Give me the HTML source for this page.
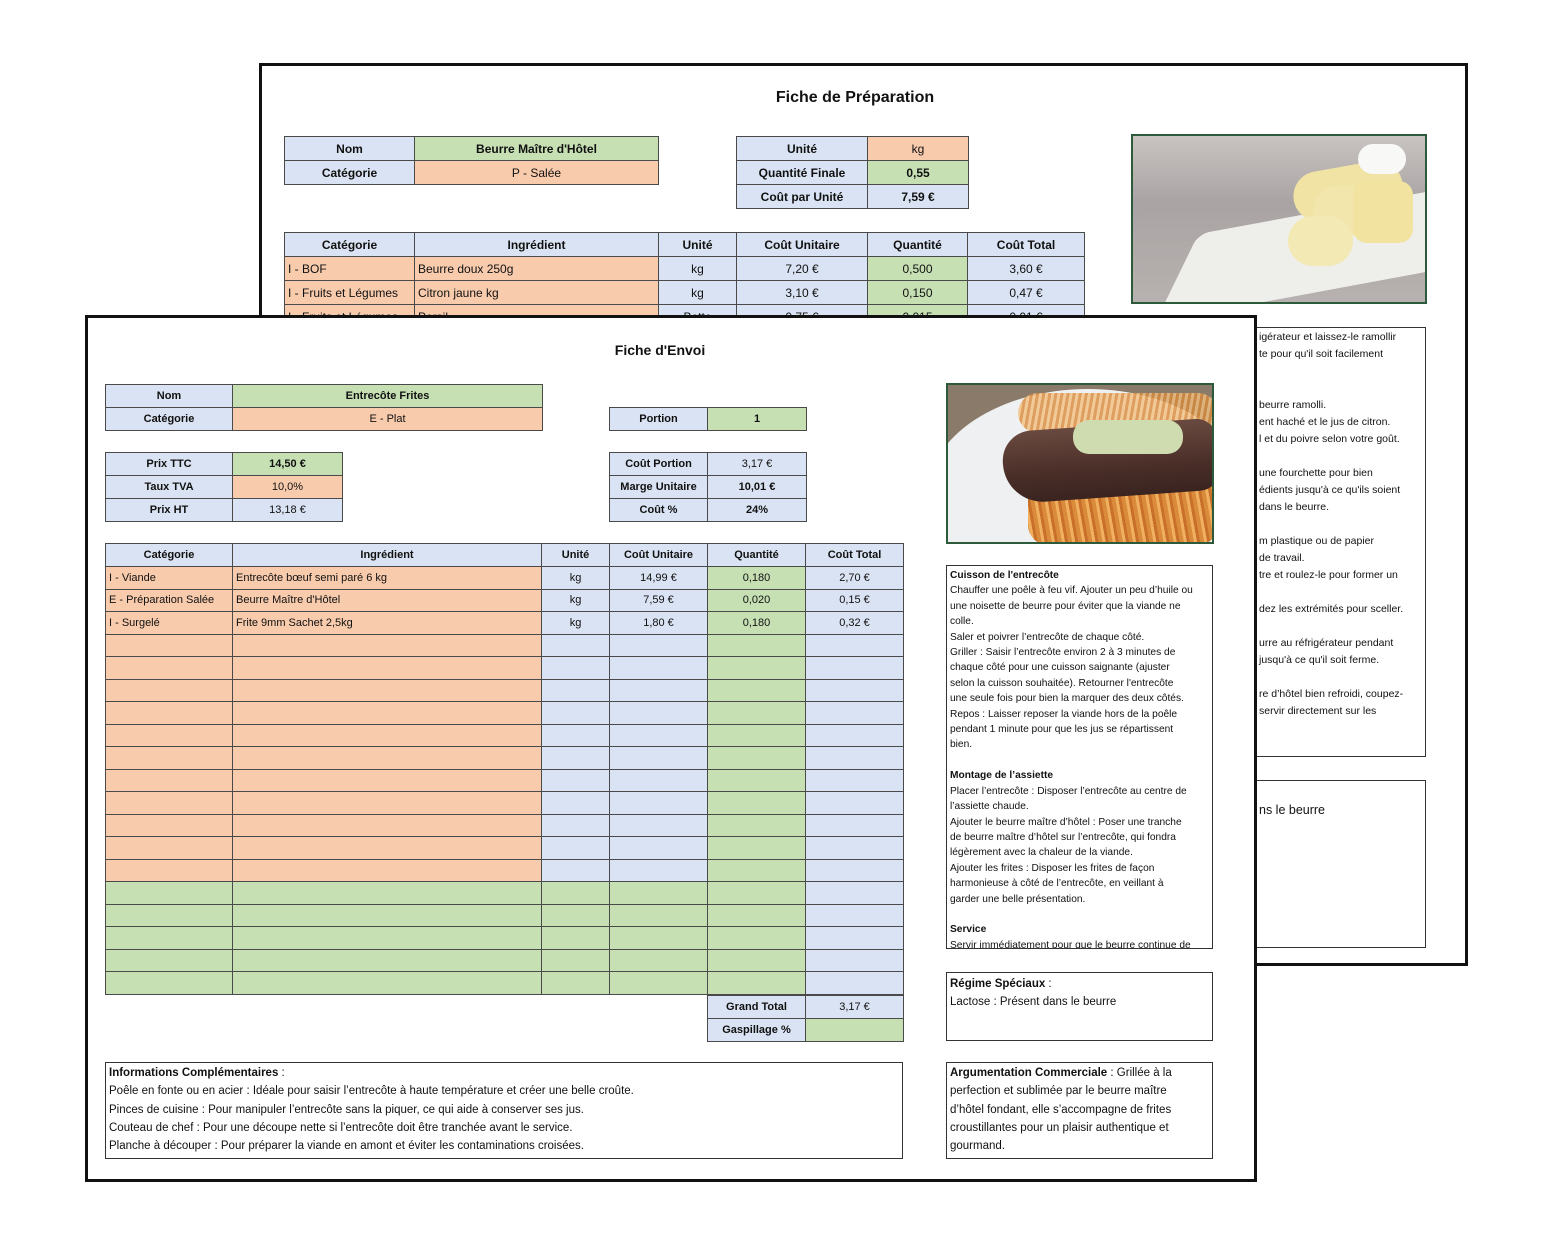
<!DOCTYPE html>
<html><head><meta charset="utf-8">
<style>
*{box-sizing:border-box;margin:0;padding:0}
body{width:1563px;height:1250px;background:#fff;position:relative;overflow:hidden;font-family:"Liberation Sans",sans-serif;color:#111}
.abs{position:absolute}
table{border-collapse:collapse;table-layout:fixed;position:absolute}
td{border:1px solid #4a4a4a;font-size:12px;text-align:center;padding:0;white-space:nowrap;overflow:hidden}
.b{background:#dae3f3}.g{background:#c6e0b4}.o{background:#f8cbad}
.l{text-align:left;padding-left:3px}
.h td{font-weight:bold}
.ft td{font-size:11px}
.box{position:absolute;border:1.5px solid #333;background:#fff;font-size:10px;line-height:15.4px;padding:2px 3px;overflow:hidden;white-space:nowrap}
</style></head><body>

<!-- BACK SHEET -->
<div class="abs" style="left:259px;top:63px;width:1209px;height:903px;border:3px solid #111;background:#fff"></div>
<div class="abs" style="left:700px;top:89px;width:310px;text-align:center;font-weight:bold;font-size:16px">Fiche de Préparation</div>

<table style="left:284px;top:136px;width:374px">
<colgroup><col style="width:130px"><col style="width:244px"></colgroup>
<tr style="height:24px"><td class="b"><b>Nom</b></td><td class="g"><b>Beurre Maître d'Hôtel</b></td></tr>
<tr style="height:24px"><td class="b"><b>Catégorie</b></td><td class="o">P - Salée</td></tr>
</table>
<table style="left:736px;top:136px;width:232px">
<colgroup><col style="width:131px"><col style="width:101px"></colgroup>
<tr style="height:24px"><td class="b"><b>Unité</b></td><td class="o">kg</td></tr>
<tr style="height:24px"><td class="b"><b>Quantité Finale</b></td><td class="g"><b>0,55</b></td></tr>
<tr style="height:24px"><td class="b"><b>Coût par Unité</b></td><td class="b"><b>7,59 €</b></td></tr>
</table>
<table style="left:284px;top:232px;width:800px">
<colgroup><col style="width:130px"><col style="width:244px"><col style="width:78px"><col style="width:131px"><col style="width:100px"><col style="width:117px"></colgroup>
<tr class="h" style="height:24px"><td class="b">Catégorie</td><td class="b">Ingrédient</td><td class="b">Unité</td><td class="b">Coût Unitaire</td><td class="b">Quantité</td><td class="b">Coût Total</td></tr>
<tr style="height:24px"><td class="o l">I - BOF</td><td class="o l">Beurre doux 250g</td><td class="b">kg</td><td class="b">7,20 €</td><td class="g">0,500</td><td class="b">3,60 €</td></tr>
<tr style="height:24px"><td class="o l">I - Fruits et Légumes</td><td class="o l">Citron jaune kg</td><td class="b">kg</td><td class="b">3,10 €</td><td class="g">0,150</td><td class="b">0,47 €</td></tr>
<tr style="height:24px"><td class="o l">I - Fruits et Légumes</td><td class="o l">Persil</td><td class="b">Botte</td><td class="b">0,75 €</td><td class="g">0,015</td><td class="b">0,01 €</td></tr>
</table>

<!-- butter image -->
<div class="abs" style="left:1131px;top:134px;width:296px;height:170px;border:2px solid #2d5a3a;overflow:hidden;background:linear-gradient(180deg,#c9c4c2 0%,#a9a3a3 40%,#b7b1b0 100%)">
 <div class="abs" style="left:60px;top:70px;width:260px;height:90px;background:#eeeeea;transform:skewX(-35deg) rotate(-12deg);border-radius:10px"></div>
 <div class="abs" style="left:160px;top:30px;width:110px;height:50px;background:#f0e3a4;border-radius:25px;transform:rotate(-10deg)"></div>
 <div class="abs" style="left:180px;top:50px;width:60px;height:50px;background:#f2e6ac;border-radius:28px"></div>
 <div class="abs" style="left:155px;top:80px;width:65px;height:50px;background:#f3e9b4;border-radius:28px"></div>
 <div class="abs" style="left:220px;top:45px;width:60px;height:62px;background:#f2e4a0;border-radius:14px"></div>
 <div class="abs" style="left:225px;top:8px;width:48px;height:30px;background:#f8f8f6;border-radius:15px"></div>
</div>

<!-- back text box (fragments visible) -->
<div class="box" style="left:1200px;top:327px;width:226px;height:430px;font-size:10.5px;line-height:17px;padding-left:58px;padding-top:1px">
igérateur et laissez-le ramollir<br>te pour qu'il soit facilement<br><br><br>beurre ramolli.<br>ent haché et le jus de citron.<br>l et du poivre selon votre goût.<br><br>une fourchette pour bien<br>édients jusqu'à ce qu'ils soient<br>dans le beurre.<br><br>m plastique ou de papier<br>de travail.<br>tre et roulez-le pour former un<br><br>dez les extrémités pour sceller.<br><br>urre au réfrigérateur pendant<br>jusqu'à ce qu'il soit ferme.<br><br>re d’hôtel bien refroidi, coupez-<br>servir directement sur les
</div>
<div class="box" style="left:1200px;top:780px;width:226px;height:168px;font-size:12.5px;padding-left:58px;padding-top:22px">ns le beurre</div>

<!-- FRONT SHEET -->
<div class="abs" style="left:85px;top:315px;width:1172px;height:867px;border:3px solid #111;background:#fff"></div>
<div class="abs" style="left:560px;top:342px;width:200px;text-align:center;font-weight:bold;font-size:14px">Fiche d'Envoi</div>

<div class="ft">
<table style="left:105px;top:384px;width:437px">
<colgroup><col style="width:127px"><col style="width:310px"></colgroup>
<tr style="height:23px"><td class="b"><b>Nom</b></td><td class="g"><b>Entrecôte Frites</b></td></tr>
<tr style="height:23px"><td class="b"><b>Catégorie</b></td><td class="o">E - Plat</td></tr>
</table>
<table style="left:609px;top:407px;width:197px">
<colgroup><col style="width:98px"><col style="width:99px"></colgroup>
<tr style="height:23px"><td class="b"><b>Portion</b></td><td class="g"><b>1</b></td></tr>
</table>
<table style="left:105px;top:452px;width:237px">
<colgroup><col style="width:127px"><col style="width:110px"></colgroup>
<tr style="height:23px"><td class="b"><b>Prix TTC</b></td><td class="g"><b>14,50 €</b></td></tr>
<tr style="height:23px"><td class="b"><b>Taux TVA</b></td><td class="o">10,0%</td></tr>
<tr style="height:23px"><td class="b"><b>Prix HT</b></td><td class="b">13,18 €</td></tr>
</table>
<table style="left:609px;top:452px;width:197px">
<colgroup><col style="width:98px"><col style="width:99px"></colgroup>
<tr style="height:23px"><td class="b"><b>Coût Portion</b></td><td class="b">3,17 €</td></tr>
<tr style="height:23px"><td class="b"><b>Marge Unitaire</b></td><td class="b"><b>10,01 €</b></td></tr>
<tr style="height:23px"><td class="b"><b>Coût %</b></td><td class="b"><b>24%</b></td></tr>
</table>

<table style="left:105px;top:543px;width:798px">
<colgroup><col style="width:127px"><col style="width:309px"><col style="width:68px"><col style="width:98px"><col style="width:98px"><col style="width:98px"></colgroup>
<tr class="h" style="height:23px"><td class="b">Catégorie</td><td class="b">Ingrédient</td><td class="b">Unité</td><td class="b">Coût Unitaire</td><td class="b">Quantité</td><td class="b">Coût Total</td></tr>
<tr style="height:22.5px"><td class="o l">I - Viande</td><td class="o l">Entrecôte bœuf semi paré 6 kg</td><td class="b">kg</td><td class="b">14,99 €</td><td class="g">0,180</td><td class="b">2,70 €</td></tr>
<tr style="height:22.5px"><td class="o l">E - Préparation Salée</td><td class="o l">Beurre Maître d'Hôtel</td><td class="b">kg</td><td class="b">7,59 €</td><td class="g">0,020</td><td class="b">0,15 €</td></tr>
<tr style="height:22.5px"><td class="o l">I - Surgelé</td><td class="o l">Frite 9mm Sachet 2,5kg</td><td class="b">kg</td><td class="b">1,80 €</td><td class="g">0,180</td><td class="b">0,32 €</td></tr>
<tr style="height:22.5px"><td class="o"></td><td class="o"></td><td class="b"></td><td class="b"></td><td class="g"></td><td class="b"></td></tr>
<tr style="height:22.5px"><td class="o"></td><td class="o"></td><td class="b"></td><td class="b"></td><td class="g"></td><td class="b"></td></tr>
<tr style="height:22.5px"><td class="o"></td><td class="o"></td><td class="b"></td><td class="b"></td><td class="g"></td><td class="b"></td></tr>
<tr style="height:22.5px"><td class="o"></td><td class="o"></td><td class="b"></td><td class="b"></td><td class="g"></td><td class="b"></td></tr>
<tr style="height:22.5px"><td class="o"></td><td class="o"></td><td class="b"></td><td class="b"></td><td class="g"></td><td class="b"></td></tr>
<tr style="height:22.5px"><td class="o"></td><td class="o"></td><td class="b"></td><td class="b"></td><td class="g"></td><td class="b"></td></tr>
<tr style="height:22.5px"><td class="o"></td><td class="o"></td><td class="b"></td><td class="b"></td><td class="g"></td><td class="b"></td></tr>
<tr style="height:22.5px"><td class="o"></td><td class="o"></td><td class="b"></td><td class="b"></td><td class="g"></td><td class="b"></td></tr>
<tr style="height:22.5px"><td class="o"></td><td class="o"></td><td class="b"></td><td class="b"></td><td class="g"></td><td class="b"></td></tr>
<tr style="height:22.5px"><td class="o"></td><td class="o"></td><td class="b"></td><td class="b"></td><td class="g"></td><td class="b"></td></tr>
<tr style="height:22.5px"><td class="o"></td><td class="o"></td><td class="b"></td><td class="b"></td><td class="g"></td><td class="b"></td></tr>
<tr style="height:22.5px"><td class="g"></td><td class="g"></td><td class="g"></td><td class="g"></td><td class="g"></td><td class="b"></td></tr>
<tr style="height:22.5px"><td class="g"></td><td class="g"></td><td class="g"></td><td class="g"></td><td class="g"></td><td class="b"></td></tr>
<tr style="height:22.5px"><td class="g"></td><td class="g"></td><td class="g"></td><td class="g"></td><td class="g"></td><td class="b"></td></tr>
<tr style="height:22.5px"><td class="g"></td><td class="g"></td><td class="g"></td><td class="g"></td><td class="g"></td><td class="b"></td></tr>
<tr style="height:22.5px"><td class="g"></td><td class="g"></td><td class="g"></td><td class="g"></td><td class="g"></td><td class="b"></td></tr>
</table>
<table style="left:707px;top:995px;width:196px">
<colgroup><col style="width:98px"><col style="width:98px"></colgroup>
<tr style="height:23px"><td class="b"><b>Grand Total</b></td><td class="b">3,17 €</td></tr>
<tr style="height:23px"><td class="b"><b>Gaspillage %</b></td><td class="g"></td></tr>
</table>
</div>

<!-- steak image -->
<div class="abs" style="left:946px;top:383px;width:268px;height:161px;border:2px solid #2d5a3a;overflow:hidden;background:#8a7a6a">
 <div class="abs" style="left:-20px;top:4px;width:320px;height:210px;border-radius:50%;background:#eef0f2"></div>
 <div class="abs" style="left:70px;top:8px;width:200px;height:40px;background:repeating-linear-gradient(100deg,#d98a3a 0 3px,#f2c080 3px 6px);border-radius:20px;opacity:.8"></div>
 <div class="abs" style="left:80px;top:90px;width:190px;height:70px;background:repeating-linear-gradient(80deg,#d98a3a 0 4px,#f0b060 4px 7px,#c8702a 7px 10px);border-radius:20px"></div>
 <div class="abs" style="left:55px;top:40px;width:215px;height:72px;background:linear-gradient(180deg,#6a4a40,#4a2e28 60%,#3a2420);border-radius:30px 20px 20px 40px;transform:rotate(-4deg)"></div>
 <div class="abs" style="left:125px;top:35px;width:110px;height:34px;background:#cfdcb0;border-radius:16px"></div>
</div>

<div class="box" style="left:946px;top:565px;width:267px;height:384px;font-size:10.2px"><b>Cuisson de l'entrecôte</b><br>Chauffer une poêle à feu vif. Ajouter un peu d’huile ou<br>une noisette de beurre pour éviter que la viande ne<br>colle.<br>Saler et poivrer l’entrecôte de chaque côté.<br>Griller : Saisir l’entrecôte environ 2 à 3 minutes de<br>chaque côté pour une cuisson saignante (ajuster<br>selon la cuisson souhaitée). Retourner l'entrecôte<br>une seule fois pour bien la marquer des deux côtés.<br>Repos : Laisser reposer la viande hors de la poêle<br>pendant 1 minute pour que les jus se répartissent<br>bien.<br><br><b>Montage de l’assiette</b><br>Placer l’entrecôte : Disposer l’entrecôte au centre de<br>l’assiette chaude.<br>Ajouter le beurre maître d’hôtel : Poser une tranche<br>de beurre maître d’hôtel sur l’entrecôte, qui fondra<br>légèrement avec la chaleur de la viande.<br>Ajouter les frites : Disposer les frites de façon<br>harmonieuse à côté de l’entrecôte, en veillant à<br>garder une belle présentation.<br><br><b>Service</b><br><u>Servir immédiatement pour que le beurre continue de</u></div>

<div class="box" style="left:946px;top:972px;width:267px;height:69px;font-size:11.5px;line-height:18px"><b>Régime Spéciaux</b> :<br>Lactose : Présent dans le beurre</div>

<div class="box" style="left:105px;top:1062px;width:798px;height:97px;font-size:11.5px;line-height:18.3px;padding-top:1px"><b>Informations Complémentaires</b> :<br>Poêle en fonte ou en acier : Idéale pour saisir l’entrecôte à haute température et créer une belle croûte.<br>Pinces de cuisine : Pour manipuler l’entrecôte sans la piquer, ce qui aide à conserver ses jus.<br>Couteau de chef : Pour une découpe nette si l’entrecôte doit être tranchée avant le service.<br>Planche à découper : Pour préparer la viande en amont et éviter les contaminations croisées.</div>

<div class="box" style="left:946px;top:1062px;width:267px;height:97px;font-size:11.5px;line-height:18.3px;padding-top:1px"><b>Argumentation Commerciale</b> : Grillée à la<br>perfection et sublimée par le beurre maître<br>d’hôtel fondant, elle s’accompagne de frites<br>croustillantes pour un plaisir authentique et<br>gourmand.</div>

</body></html>
